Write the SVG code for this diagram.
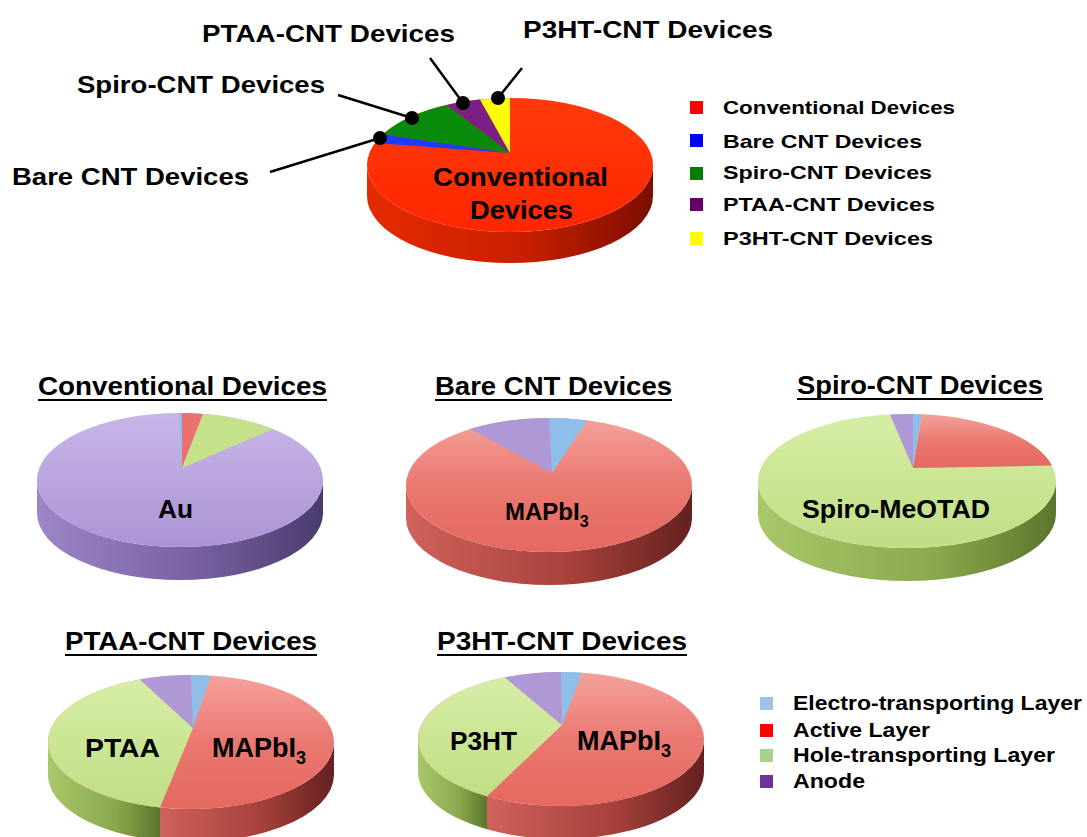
<svg xmlns="http://www.w3.org/2000/svg" width="1087" height="837" viewBox="0 0 1087 837">
<style>
.t{font-family:"Liberation Sans",Arial,Helvetica,sans-serif;font-weight:bold;fill:#000}
.ul{stroke:#000;stroke-width:2}
.conn line{stroke:#000;stroke-width:2.5}
.conn circle{fill:#000}
</style>
<defs>
<linearGradient id="sideRed" x1="0" y1="0" x2="1" y2="0"><stop offset="0" stop-color="#e62a00"/><stop offset="0.55" stop-color="#c81f00"/><stop offset="1" stop-color="#7c0e00"/></linearGradient>
<linearGradient id="topRed" x1="0" y1="0" x2="0" y2="1"><stop offset="0" stop-color="#ff3a0a"/><stop offset="1" stop-color="#ff2600"/></linearGradient>
<linearGradient id="pRedTop" x1="0" y1="0" x2="0" y2="1"><stop offset="0" stop-color="#f4a29c"/><stop offset="0.5" stop-color="#ea7870"/><stop offset="1" stop-color="#e46860"/></linearGradient>
<linearGradient id="pRedSide" x1="0" y1="0" x2="1" y2="0"><stop offset="0" stop-color="#d0625a"/><stop offset="0.6" stop-color="#a4403a"/><stop offset="1" stop-color="#642020"/></linearGradient>
<linearGradient id="pGreenTop" x1="0" y1="0" x2="0" y2="1"><stop offset="0" stop-color="#d6eda6"/><stop offset="1" stop-color="#c0de84"/></linearGradient>
<linearGradient id="pGreenSide" x1="0" y1="0" x2="1" y2="0"><stop offset="0" stop-color="#a9c86a"/><stop offset="0.6" stop-color="#8aa84c"/><stop offset="1" stop-color="#5c752c"/></linearGradient>
<linearGradient id="pPurpleTop" x1="0" y1="0" x2="0" y2="1"><stop offset="0" stop-color="#c8b6e8"/><stop offset="1" stop-color="#ab94d4"/></linearGradient>
<linearGradient id="pPurpleSide" x1="0" y1="0" x2="1" y2="0"><stop offset="0" stop-color="#9c86c8"/><stop offset="0.6" stop-color="#735e9e"/><stop offset="1" stop-color="#4a3b6c"/></linearGradient>
</defs>
<rect width="1087" height="837" fill="#fff"/>

<g id="pie-main">
<path d="M367,165 L367,196 A143,67 0 0 0 653,196 L653,165 A143,67 0 0 1 367,165 Z" fill="url(#sideRed)"/>
<ellipse cx="510" cy="165" rx="143" ry="67" fill="url(#topRed)"/>
<path d="M510,153 L375,142.9 A143,67 0 0 1 383,134.2 Z" fill="#1a3cff"/>
<path d="M510,153 L383,134.2 A143,67 0 0 1 447,104.9 Z" fill="#0a8a0a"/>
<path d="M510,153 L447,104.9 A143,67 0 0 1 480,99.5 Z" fill="#7b1f85"/>
<path d="M510,153 L480,99.5 A143,67 0 0 1 510,98 Z" fill="#ffff00"/>
<text class="t" x="433" y="186" font-size="26" textLength="175" lengthAdjust="spacingAndGlyphs">Conventional</text>
<text class="t" x="470" y="219" font-size="26" textLength="103" lengthAdjust="spacingAndGlyphs">Devices</text>
</g>

<g id="connectors" class="conn">
<line x1="380" y1="138" x2="270" y2="172"/>
<line x1="412" y1="118" x2="338" y2="95"/>
<line x1="463" y1="103" x2="430" y2="58"/>
<line x1="498" y1="98" x2="522" y2="68"/>
<circle cx="380" cy="138" r="7"/>
<circle cx="412" cy="118" r="7"/>
<circle cx="463" cy="103" r="7"/>
<circle cx="498" cy="98" r="7"/>
</g>

<g id="main-labels">
<text class="t" x="202" y="42" font-size="24" textLength="253" lengthAdjust="spacingAndGlyphs">PTAA-CNT Devices</text>
<text class="t" x="523" y="38" font-size="24" textLength="250" lengthAdjust="spacingAndGlyphs">P3HT-CNT Devices</text>
<text class="t" x="77" y="93" font-size="24" textLength="248" lengthAdjust="spacingAndGlyphs">Spiro-CNT Devices</text>
<text class="t" x="12" y="185" font-size="24" textLength="237" lengthAdjust="spacingAndGlyphs">Bare CNT Devices</text>
</g>

<g id="legend-devices">
<rect x="690" y="101" width="13" height="13" fill="#ff0000"/>
<rect x="690" y="134" width="13" height="13" fill="#0000ff"/>
<rect x="690" y="167" width="13" height="13" fill="#007f00"/>
<rect x="690" y="198" width="13" height="13" fill="#660066"/>
<rect x="690" y="232" width="13" height="13" fill="#ffff00"/>
<text class="t" x="723" y="114" font-size="19" textLength="232" lengthAdjust="spacingAndGlyphs">Conventional Devices</text>
<text class="t" x="723" y="148" font-size="19" textLength="199" lengthAdjust="spacingAndGlyphs">Bare CNT Devices</text>
<text class="t" x="723" y="179" font-size="19" textLength="209" lengthAdjust="spacingAndGlyphs">Spiro-CNT Devices</text>
<text class="t" x="723" y="211" font-size="19" textLength="212" lengthAdjust="spacingAndGlyphs">PTAA-CNT Devices</text>
<text class="t" x="723" y="245" font-size="19" textLength="210" lengthAdjust="spacingAndGlyphs">P3HT-CNT Devices</text>
</g>

<g id="pie-conventional">
<text class="t" x="38" y="395" font-size="25" textLength="289" lengthAdjust="spacingAndGlyphs">Conventional Devices</text>
<line class="ul" x1="38" y1="400" x2="327" y2="400"/>
<path d="M37,480 L37,513 A143,67 0 0 0 323,513 L323,480 A143,67 0 0 1 37,480 Z" fill="url(#pPurpleSide)"/>
<ellipse cx="180" cy="480" rx="143" ry="67" fill="url(#pPurpleTop)"/>
<path d="M182,468 L179,413 A143,67 0 0 1 182,413 Z" fill="#8ebfea"/>
<path d="M182,468 L182,413 A143,67 0 0 1 203,413.9 Z" fill="#e9736c"/>
<path d="M182,468 L203,413.9 A143,67 0 0 1 273,429.1 Z" fill="#c5e28a"/>
<text class="t" x="158" y="518" font-size="26" textLength="35" lengthAdjust="spacingAndGlyphs">Au</text>
</g>

<g id="pie-bare">
<text class="t" x="435" y="395" font-size="25" textLength="237" lengthAdjust="spacingAndGlyphs">Bare CNT Devices</text>
<line class="ul" x1="435" y1="400" x2="672" y2="400"/>
<path d="M406,485 L406,518 A143,67 0 0 0 692,518 L692,485 A143,67 0 0 1 406,485 Z" fill="url(#pRedSide)"/>
<ellipse cx="549" cy="485" rx="143" ry="67" fill="url(#pRedTop)"/>
<path d="M552,473 L470,429.1 A143,67 0 0 1 549,418 Z" fill="#ae98d6"/>
<path d="M552,473 L549,418 A143,67 0 0 1 587,420.4 Z" fill="#8ebfea"/>
<text class="t" x="505" y="520" font-size="24">MAPbI<tspan font-size="16" dy="7">3</tspan></text>
</g>

<g id="pie-spiro">
<text class="t" x="797" y="394" font-size="25" textLength="246" lengthAdjust="spacingAndGlyphs">Spiro-CNT Devices</text>
<line class="ul" x1="797" y1="399" x2="1043" y2="399"/>
<path d="M758,481 L758,514 A149,67 0 0 0 1056,514 L1056,481 A149,67 0 0 1 758,481 Z" fill="url(#pGreenSide)"/>
<ellipse cx="907" cy="481" rx="149" ry="67" fill="url(#pGreenTop)"/>
<path d="M913,468 L890,414.4 A149,67 0 0 1 913,414.1 Z" fill="#ae98d6"/>
<path d="M913,468 L913,414.1 A149,67 0 0 1 922,414.3 Z" fill="#8ebfea"/>
<path d="M913,468 L922,414.3 A149,67 0 0 1 1052,465.6 Z" fill="url(#pRedTop)"/>
<text class="t" x="802" y="518" font-size="26" textLength="188" lengthAdjust="spacingAndGlyphs">Spiro-MeOTAD</text>
</g>

<g id="pie-ptaa">
<text class="t" x="65" y="650" font-size="25" textLength="252" lengthAdjust="spacingAndGlyphs">PTAA-CNT Devices</text>
<line class="ul" x1="65" y1="655" x2="317" y2="655"/>
<path d="M48,742 L48,775 A143,67 0 0 0 160,840.4 L160,807.4 A143,67 0 0 1 48,742 Z" fill="url(#pGreenSide)"/>
<path d="M160,807.4 L160,840.4 A143,67 0 0 0 334,775 L334,742 A143,67 0 0 1 160,807.4 Z" fill="url(#pRedSide)"/>
<ellipse cx="191" cy="742" rx="143" ry="67" fill="url(#pRedTop)"/>
<path d="M193,728 L160,807.4 A143,67 0 0 1 140,679.4 Z" fill="url(#pGreenTop)"/>
<path d="M193,728 L140,679.4 A143,67 0 0 1 191,675 Z" fill="#ae98d6"/>
<path d="M193,728 L191,675 A143,67 0 0 1 211,675.7 Z" fill="#8ebfea"/>
<text class="t" x="85" y="757" font-size="26" textLength="75" lengthAdjust="spacingAndGlyphs">PTAA</text>
<text class="t" x="212" y="757" font-size="27">MAPbI<tspan font-size="18" dy="7">3</tspan></text>
</g>

<g id="pie-p3ht">
<text class="t" x="437" y="650" font-size="25" textLength="250" lengthAdjust="spacingAndGlyphs">P3HT-CNT Devices</text>
<line class="ul" x1="437" y1="655" x2="687" y2="655"/>
<path d="M418,739 L418,772 A143,67 0 0 0 487,829.3 L487,796.3 A143,67 0 0 1 418,739 Z" fill="url(#pGreenSide)"/>
<path d="M487,796.3 L487,829.3 A143,67 0 0 0 704,772 L704,739 A143,67 0 0 1 487,796.3 Z" fill="url(#pRedSide)"/>
<ellipse cx="561" cy="739" rx="143" ry="67" fill="url(#pRedTop)"/>
<path d="M562,725 L487,796.3 A143,67 0 0 1 505,677.4 Z" fill="url(#pGreenTop)"/>
<path d="M562,725 L505,677.4 A143,67 0 0 1 561,672 Z" fill="#ae98d6"/>
<path d="M562,725 L561,672 A143,67 0 0 1 582,672.7 Z" fill="#8ebfea"/>
<text class="t" x="450" y="750" font-size="26" textLength="67" lengthAdjust="spacingAndGlyphs">P3HT</text>
<text class="t" x="577" y="750" font-size="27">MAPbI<tspan font-size="18" dy="7">3</tspan></text>
</g>

<g id="legend-layers">
<rect x="760" y="697" width="13" height="13" fill="#9dc3e6"/>
<rect x="760" y="724" width="13" height="13" fill="#ff0000"/>
<rect x="760" y="749" width="13" height="13" fill="#a9d18e"/>
<rect x="760" y="775" width="13" height="13" fill="#7030a0"/>
<text class="t" x="793" y="710" font-size="20" textLength="289" lengthAdjust="spacingAndGlyphs">Electro-transporting Layer</text>
<text class="t" x="793" y="737" font-size="20" textLength="137" lengthAdjust="spacingAndGlyphs">Active Layer</text>
<text class="t" x="793" y="762" font-size="20" textLength="262" lengthAdjust="spacingAndGlyphs">Hole-transporting Layer</text>
<text class="t" x="793" y="788" font-size="20" textLength="72" lengthAdjust="spacingAndGlyphs">Anode</text>
</g>
</svg>
